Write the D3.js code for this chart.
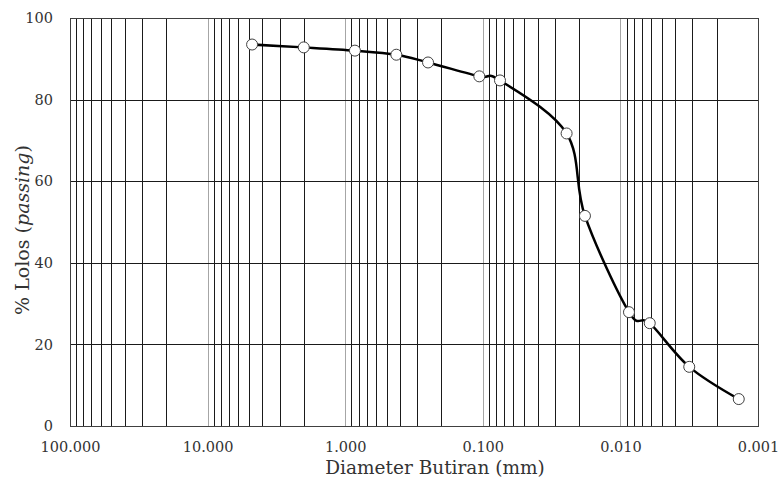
<!DOCTYPE html>
<html>
<head>
<meta charset="utf-8">
<script src="https://cdn.jsdelivr.net/npm/d3@7"></script>
<style>
  body { margin: 0; background: #fff; }
  svg { display: block; }
</style>
</head>
<body>
<div id="chart"></div>
<script>
// grain size distribution (diameter in mm, % passing)
const diameters = [4.75, 2.0, 0.85, 0.425, 0.25, 0.106, 0.075, 0.0246, 0.0181, 0.00866, 0.00612, 0.00316, 0.00138];
const passing = [93.5, 92.8, 92.0, 91.0, 89.1, 85.7, 84.7, 71.7, 51.5, 27.9, 25.2, 14.5, 6.6];
const xTicks = [100, 10, 1, 0.1, 0.01, 0.001];
const yTicks = [0, 20, 40, 60, 80, 100];

const width = 779, height = 479;
const margin = { top: 18, right: 21, bottom: 53, left: 70 };

const svg = d3.select('#chart').append('svg')
  .attr('width', width)
  .attr('height', height);

const x = d3.scaleLog()
  .domain([100, 0.001])
  .range([margin.left, width - margin.right]);

const y = d3.scaleLinear()
  .domain([0, 100])
  .range([height - margin.bottom, margin.top]);

// vertical grid: minor lines 2..9 of each decade, then decade lines in grey
const minor = [];
xTicks.slice(1).forEach(d => {
  for (let k = 2; k <= 9; k++) minor.push(d * k);
});

const grid = svg.append('g').attr('shape-rendering', 'crispEdges');

grid.selectAll('line.minor')
  .data(minor)
  .join('line')
  .attr('class', 'minor')
  .attr('x1', d => Math.round(x(d)) + 0.5)
  .attr('x2', d => Math.round(x(d)) + 0.5)
  .attr('y1', y(0))
  .attr('y2', y(100))
  .attr('stroke', '#1a1a1a')
  .attr('stroke-width', 1);

grid.selectAll('line.major')
  .data(xTicks.slice(1, -1))
  .join('line')
  .attr('class', 'major')
  .attr('x1', d => Math.round(x(d)) + 0.5)
  .attr('x2', d => Math.round(x(d)) + 0.5)
  .attr('y1', y(0))
  .attr('y2', y(100))
  .attr('stroke', '#a6a6a6')
  .attr('stroke-width', 1);

grid.selectAll('line.h')
  .data(yTicks.slice(1, -1))
  .join('line')
  .attr('class', 'h')
  .attr('x1', x(100))
  .attr('x2', x(0.001))
  .attr('y1', d => Math.round(y(d)) + 0.5)
  .attr('y2', d => Math.round(y(d)) + 0.5)
  .attr('stroke', '#1a1a1a')
  .attr('stroke-width', 1);

// frame
grid.append('rect')
  .attr('x', Math.round(x(100)) + 0.5)
  .attr('y', Math.round(y(100)) + 0.5)
  .attr('width', Math.round(x(0.001)) - Math.round(x(100)))
  .attr('height', Math.round(y(0)) - Math.round(y(100)))
  .attr('fill', 'none')
  .attr('stroke', '#404040')
  .attr('stroke-width', 1);

// axes (labels only, the lines are the grid)
const xAxis = svg.append('g')
  .attr('transform', `translate(0,${y(0)})`)
  .call(d3.axisBottom(x).tickValues(xTicks).tickFormat(d3.format('.3f')).tickSize(0).tickPadding(16));
xAxis.select('.domain').remove();
xAxis.selectAll('text')
  .attr('font-family', 'DejaVu Serif')
  .attr('font-size', 14.5)
  .attr('fill', '#333');

const yAxis = svg.append('g')
  .attr('transform', `translate(${x(100)},0)`)
  .call(d3.axisLeft(y).tickValues(yTicks).tickSize(0).tickPadding(17));
yAxis.select('.domain').remove();
yAxis.selectAll('text')
  .attr('font-family', 'DejaVu Serif')
  .attr('font-size', 14.5)
  .attr('fill', '#333');

// axis titles
svg.append('text')
  .attr('x', (x(100) + x(0.001)) / 2 + 21)
  .attr('y', 474)
  .attr('text-anchor', 'middle')
  .attr('font-family', 'DejaVu Serif')
  .attr('font-size', 18.5)
  .attr('fill', '#333')
  .text('Diameter Butiran (mm)');

const yTitle = svg.append('text')
  .attr('transform', `translate(29,${(y(0) + y(100)) / 2 + 8}) rotate(-90)`)
  .attr('text-anchor', 'middle')
  .attr('font-family', 'DejaVu Serif')
  .attr('font-size', 19)
  .attr('fill', '#333');
yTitle.append('tspan').text('% Lolos (');
yTitle.append('tspan').attr('font-style', 'italic').text('passing');
yTitle.append('tspan').text(')');

// data
const points = diameters.map((d, i) => ({ d, p: passing[i] }));

const line = d3.line()
  .x(v => x(v.d))
  .y(v => y(v.p))
  .curve(d3.curveCardinal.tension(0));

svg.append('path')
  .datum(points)
  .attr('d', line)
  .attr('fill', 'none')
  .attr('stroke', '#000')
  .attr('stroke-width', 2.5);

svg.selectAll('circle.pt')
  .data(points)
  .join('circle')
  .attr('class', 'pt')
  .attr('cx', v => x(v.d))
  .attr('cy', v => y(v.p))
  .attr('r', 5.5)
  .attr('fill', '#fff')
  .attr('stroke', '#404040')
  .attr('stroke-width', 1);
</script>
</body>
</html>
